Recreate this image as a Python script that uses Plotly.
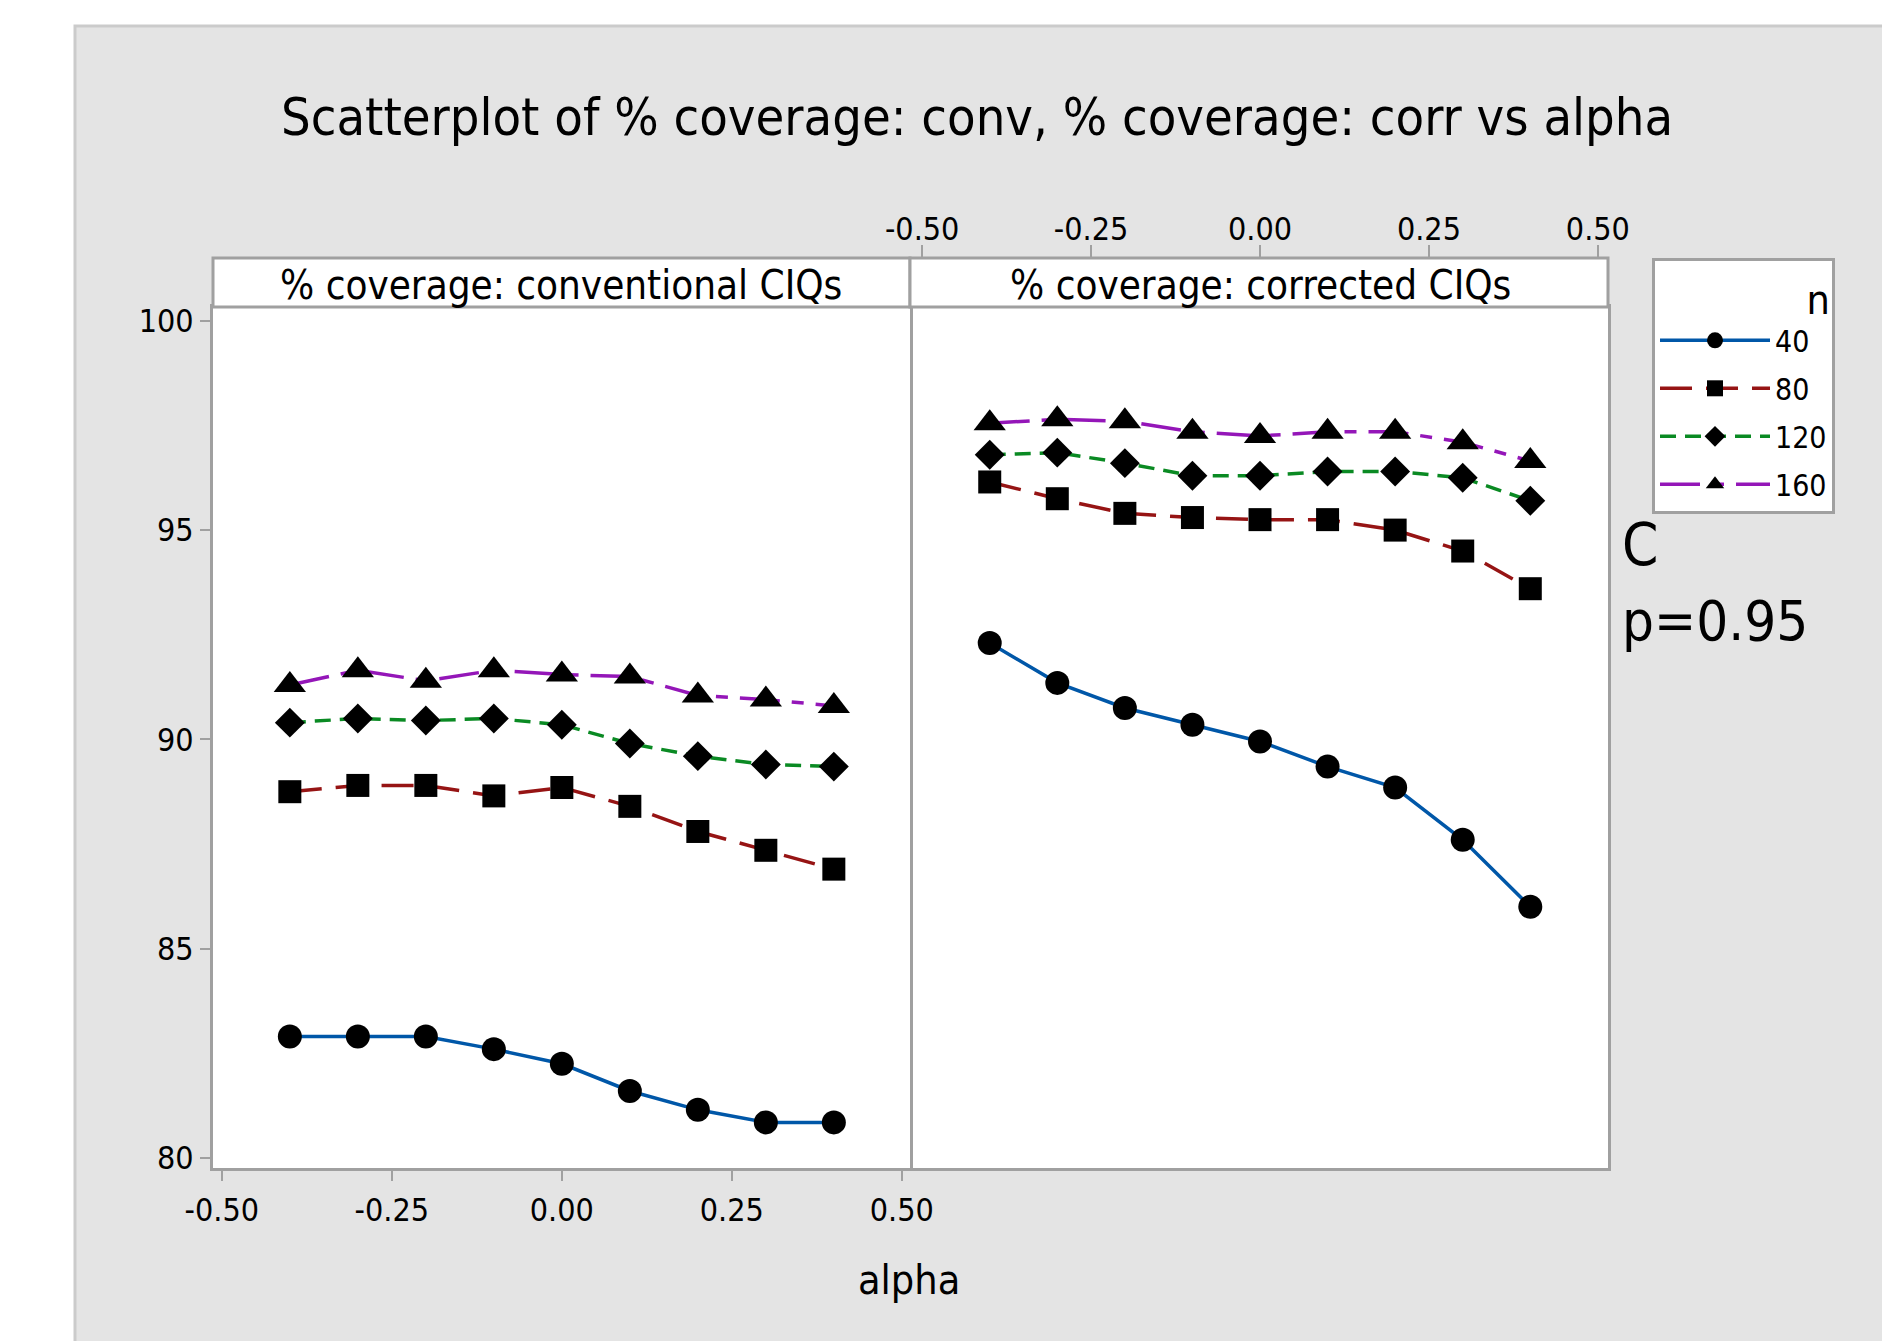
import plotly.graph_objects as go

# ---- data ----
alpha = [-0.4, -0.3, -0.2, -0.1, 0.0, 0.1, 0.2, 0.3, 0.4]
n_labels = ["40", "80", "120", "160"]

conv_40 = [82.9, 82.9, 82.9, 82.6, 82.25, 81.6, 81.15, 80.85, 80.85]
conv_80 = [88.75, 88.9, 88.9, 88.65, 88.85, 88.4, 87.8, 87.35, 86.9]
conv_120 = [90.4, 90.5, 90.45, 90.5, 90.35, 89.9, 89.6, 89.4, 89.35]
conv_160 = [91.3, 91.65, 91.4, 91.65, 91.55, 91.5, 91.05, 90.95, 90.8]

corr_40 = [92.3, 91.35, 90.75, 90.35, 89.95, 89.35, 88.85, 87.6, 86.0]
corr_80 = [96.15, 95.75, 95.4, 95.3, 95.25, 95.25, 95.0, 94.5, 93.6]
corr_120 = [96.8, 96.85, 96.6, 96.3, 96.3, 96.4, 96.4, 96.25, 95.7]
corr_160 = [97.55, 97.65, 97.6, 97.35, 97.25, 97.35, 97.35, 97.1, 96.65]

x_tickvals = [-0.5, -0.25, 0.0, 0.25, 0.5]
x_ticktext = ["-0.50", "-0.25", "0.00", "0.25", "0.50"]
y_tickvals = [80, 85, 90, 95, 100]
y_ticktext = ["80", "85", "90", "95", "100"]

# ---- styles ----
FONT = "Liberation Sans Narrow, DejaVu Sans Condensed, Roboto Condensed, Liberation Sans, sans-serif"
colors = ["#0057A8", "#961414", "#0A8A23", "#9416B8"]
dashes = ["solid", "32px,14px", "16px,9px", "40px,12px,12px,12px"]
symbols = ["circle", "square", "diamond", "triangle-up"]
msizes = [24, 23, 23, 28]
GRID = "#A0A0A0"

OFF = 8  # browser body margin
W, H = 1890 - OFF, 1341 - OFF
L, R, T, B = 213 - OFF, 282, 307 - OFF, 173
pw = W - L - R
ph = H - T - B
split = 697 / pw

fig = go.Figure()
conv = [conv_40, conv_80, conv_120, conv_160]
corr = [corr_40, corr_80, corr_120, corr_160]
for i in range(4):
    common = dict(mode="lines+markers",
                  line=dict(color=colors[i], width=3.5, dash=dashes[i]),
                  marker=dict(symbol=symbols[i], size=msizes[i], color="black"),
                  name=n_labels[i], legendgroup=n_labels[i])
    fig.add_trace(go.Scatter(x=alpha, y=conv[i], xaxis="x", yaxis="y",
                             showlegend=True, **common))
    fig.add_trace(go.Scatter(x=alpha, y=corr[i], xaxis="x2", yaxis="y2",
                             showlegend=False, **common))

def px2paper_x(px):
    return (px - OFF - L) / pw

def px2paper_y(py):
    return (H - B - (py - OFF)) / ph

strip_top = px2paper_y(258)

shapes = [
    dict(type="rect", xref="paper", yref="paper", layer="below",
         x0=px2paper_x(75), x1=px2paper_x(1900), y0=px2paper_y(1360), y1=px2paper_y(26),
         fillcolor="#E4E4E4", line=dict(color="#CBCBCB", width=3)),
    dict(type="rect", xref="paper", yref="paper", layer="below",
         x0=0, x1=1, y0=0, y1=1, fillcolor="white", line=dict(width=0)),
    dict(type="rect", xref="paper", yref="paper", layer="above",
         x0=0, x1=split, y0=1, y1=strip_top, fillcolor="white",
         line=dict(color=GRID, width=3)),
    dict(type="rect", xref="paper", yref="paper", layer="above",
         x0=split, x1=1, y0=1, y1=strip_top, fillcolor="white",
         line=dict(color=GRID, width=3)),
]

annotations = [
    dict(text="Scatterplot of % coverage: conv, % coverage: corr vs alpha",
         xref="paper", yref="paper", x=px2paper_x(977), y=px2paper_y(117),
         xanchor="center", yanchor="middle", showarrow=False,
         font=dict(family=FONT, size=52, color="black")),
    dict(text="% coverage: conventional CIQs", xref="paper", yref="paper",
         x=px2paper_x(561), y=px2paper_y(285), xanchor="center", yanchor="middle",
         showarrow=False, font=dict(family=FONT, size=40, color="black")),
    dict(text="% coverage: corrected CIQs", xref="paper", yref="paper",
         x=px2paper_x(1260), y=px2paper_y(285), xanchor="center", yanchor="middle",
         showarrow=False, font=dict(family=FONT, size=40, color="black")),
    dict(text="alpha", xref="paper", yref="paper",
         x=px2paper_x(909), y=px2paper_y(1280), xanchor="center", yanchor="middle",
         showarrow=False, font=dict(family=FONT, size=41, color="black")),
    dict(text="C", xref="paper", yref="paper",
         x=px2paper_x(1620), y=px2paper_y(545), xanchor="left", yanchor="middle",
         showarrow=False, font=dict(family=FONT, size=58, color="black")),
    dict(text="p=0.95", xref="paper", yref="paper",
         x=px2paper_x(1620), y=px2paper_y(620), xanchor="left", yanchor="middle",
         showarrow=False, font=dict(family=FONT, size=56, color="black")),
]

tickfont = dict(family=FONT, size=32, color="black")
axis_common = dict(showgrid=False, zeroline=False, showline=True,
                   linecolor=GRID, linewidth=3, tickcolor=GRID, tickwidth=2)

fig.update_layout(
    width=W, height=H,
    margin=dict(l=L, r=R, t=T, b=B, pad=0),
    paper_bgcolor="white", plot_bgcolor="white",
    showlegend=True,
    xaxis=dict(domain=[0, split], range=[-0.513, 0.512], anchor="y",
               tickmode="array", tickvals=x_tickvals, ticktext=x_ticktext,
               ticks="outside", ticklen=10, tickfont=tickfont, mirror=True,
               ticklabelstandoff=2, **axis_common),
    xaxis2=dict(domain=[split, 1], range=[-0.518, 0.515], anchor="y2",
                side="top", tickmode="array", tickvals=x_tickvals, ticktext=x_ticktext,
                ticks="outside", ticklen=59, tickfont=tickfont, mirror=True,
                ticklabelstandoff=-8, **axis_common),
    yaxis=dict(domain=[0, 1], range=[79.76, 100.33], anchor="x",
               tickmode="array", tickvals=y_tickvals, ticktext=y_ticktext,
               ticks="outside", ticklen=10, tickfont=tickfont, mirror=True,
               **axis_common),
    yaxis2=dict(domain=[0, 1], range=[79.76, 100.33], anchor="x2", side="right",
                showticklabels=False, ticks="", matches="y", mirror=False,
                **axis_common),
    legend=dict(x=px2paper_x(1652), y=px2paper_y(258), xanchor="left", yanchor="top",
                bgcolor="white", bordercolor=GRID, borderwidth=3,
                font=dict(family=FONT, size=30, color="black"),
                title=dict(text="n", side="top right",
                           font=dict(family=FONT, size=41, color="black")),
                itemwidth=110, tracegroupgap=6, traceorder="grouped"),
    shapes=shapes,
    annotations=annotations,
)

fig.write_html("out.html")
